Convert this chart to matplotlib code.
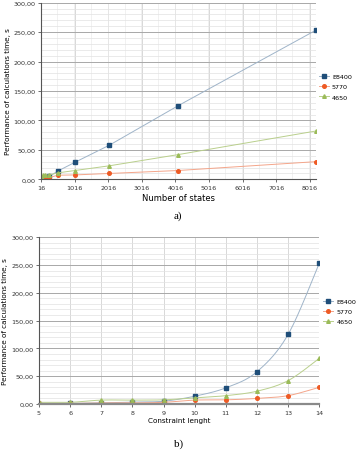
import numpy as np
import matplotlib
matplotlib.use('Agg')
import matplotlib.pyplot as plt
from matplotlib.ticker import FuncFormatter, MultipleLocator

# data
constraint = [5, 6, 7, 8, 9, 10, 11, 12, 13, 14]
states = [16, 32, 64, 128, 256, 512, 1024, 2048, 4096, 8192]
e8400 = [0.5, 1.0, 2.0, 3.5, 5.0, 14.0, 29.0, 58.0, 125.0, 253.0]
c5770 = [1.0, 1.0, 2.0, 2.0, 3.0, 7.0, 7.5, 10.0, 15.0, 30.0]
c4650 = [3.0, 3.0, 7.0, 7.0, 7.5, 11.0, 15.0, 23.0, 42.0, 82.0]
names = ['E8400', '5770', '4650']

styles = [dict(marker='s', mfc='#1f4e79', mec='#1f4e79', color='#9fb4c9', ms=2.6),
          dict(marker='o', mfc='#ee5a24', mec='#ee5a24', color='#f4a58a', ms=2.6),
          dict(marker='^', mfc='#9bbb59', mec='#9bbb59', color='#b9cf8c', ms=2.6)]

fmt = FuncFormatter(lambda v, p: f'{v:.2f}'.replace('.', ','))
tick_font = 4.6


def smooth(x, y, n=20):
    # catmull-rom curve like the office "smoothed line" option
    x = np.asarray(x, float); y = np.asarray(y, float)
    px = np.r_[x[0], x, x[-1]]; py = np.r_[y[0], y, y[-1]]
    xs, ys = [], []
    t = np.linspace(0, 1, n)
    for i in range(1, len(px) - 2):
        p0, p1, p2, p3 = [np.array([px[j], py[j]]) for j in (i-1, i, i+1, i+2)]
        c1 = p1 + (p2 - p0) / 6
        c2 = p2 - (p3 - p1) / 6
        pts = ((1-t)**3)[:, None]*p1 + (3*(1-t)**2*t)[:, None]*c1 + \
              (3*(1-t)*t**2)[:, None]*c2 + (t**3)[:, None]*p2
        xs.extend(pts[:, 0]); ys.extend(pts[:, 1])
    return np.array(xs), np.array(ys)


def style_axes(ax):
    ax.set_ylim(0, 300)
    ax.yaxis.set_major_locator(MultipleLocator(50))
    ax.yaxis.set_minor_locator(MultipleLocator(10))
    ax.yaxis.set_major_formatter(fmt)
    ax.grid(axis='y', which='major', color='#a8a8a8', lw=0.7)
    ax.grid(axis='y', which='minor', color='#e2e2e2', lw=0.5)
    ax.grid(axis='x', which='major', color='#d2d2d2', lw=0.6)
    ax.grid(axis='x', which='minor', color='#ececec', lw=0.5)
    ax.set_axisbelow(True)
    for s in ['top', 'right']:
        ax.spines[s].set_visible(False)
    ax.spines['left'].set_color('#555555')
    ax.spines['bottom'].set_color('#555555')
    ax.spines['left'].set_linewidth(0.8)
    ax.spines['bottom'].set_linewidth(0.8)
    ax.tick_params(labelsize=tick_font, length=2, width=0.5, colors='#333333', pad=2)
    ax.tick_params(which='minor', length=0)
    ax.set_ylabel('Performance of calculations time, s', fontsize=5.2, labelpad=2)


fig = plt.figure(figsize=(3.64, 4.52), dpi=100)

# a) number of states
ax1 = fig.add_axes([0.113, 0.601, 0.755, 0.391])
for vals, nm, st in zip([e8400, c5770, c4650], names, styles):
    ax1.plot(states, vals, lw=0.7, label=nm, **st)
ax1.set_xlim(16, 8200)
ax1.set_xticks(np.arange(16, 8017, 1000))
ax1.xaxis.set_minor_locator(MultipleLocator(500))
style_axes(ax1)
ax1.set_xlabel('Number of states', fontsize=6, labelpad=2)
ax1.legend(loc='center left', bbox_to_anchor=(1.0, 0.525), frameon=False,
           fontsize=4.6, handlelength=1.6, handletextpad=0.5,
           labelspacing=0.75, borderaxespad=0)
fig.text(0.49, 0.515, 'a)', fontsize=8, family='Liberation Serif', ha='center')

# b) constraint length
ax2 = fig.add_axes([0.107, 0.104, 0.77, 0.369])
for vals, nm, st in zip([e8400, c5770, c4650], names, styles):
    sx, sy = smooth(constraint, vals)
    ax2.plot(sx, sy, color=st['color'], lw=0.7)
    ax2.plot(constraint, vals, ls='none',
             **{k: v for k, v in st.items() if k != 'color'})
ax2.set_xlim(5, 14)
ax2.set_xticks(constraint)
style_axes(ax2)
ax2.spines['bottom'].set_linewidth(1.6)
ax2.spines['bottom'].set_color('#8a8a8a')
ax2.set_xlabel('Constraint lenght', fontsize=5.2, labelpad=2)
handles = [plt.Line2D([], [], lw=0.7, **st) for st in styles]
ax2.legend(handles, names, loc='center left', bbox_to_anchor=(1.005, 0.555),
           frameon=False, fontsize=4.6, handlelength=1.6, handletextpad=0.5,
           labelspacing=0.75, borderaxespad=0)
fig.text(0.49, 0.012, 'b)', fontsize=8, family='Liberation Serif', ha='center')

fig.savefig('out.png', dpi=100)
